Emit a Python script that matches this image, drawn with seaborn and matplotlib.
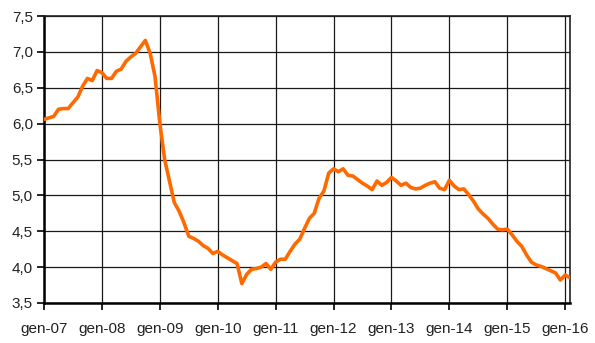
import numpy as np
import pandas as pd
import matplotlib
matplotlib.use("Agg")
import matplotlib.pyplot as plt
import seaborn as sns

# Monthly rate, January 2007 to February 2016
rate = [
    6.06, 6.08, 6.10, 6.20, 6.21, 6.21, 6.29, 6.37, 6.52, 6.63, 6.60, 6.74,
    6.71, 6.63, 6.63, 6.73, 6.76, 6.87, 6.93, 6.98, 7.07, 7.16, 6.98, 6.66,
    6.01, 5.50, 5.20, 4.90, 4.78, 4.62, 4.43, 4.40, 4.36, 4.30, 4.26, 4.19,
    4.22, 4.17, 4.13, 4.09, 4.05, 3.77, 3.90, 3.97, 3.98, 4.00, 4.05, 3.97,
    4.07, 4.11, 4.11, 4.22, 4.32, 4.39, 4.54, 4.68, 4.75, 4.96, 5.06, 5.31,
    5.37, 5.33, 5.37, 5.28, 5.27, 5.22, 5.17, 5.13, 5.08, 5.20, 5.14, 5.18,
    5.25, 5.20, 5.14, 5.17, 5.11, 5.09, 5.10, 5.14, 5.17, 5.19, 5.10, 5.08,
    5.21, 5.13, 5.08, 5.09, 5.01, 4.92, 4.81, 4.74, 4.68, 4.60, 4.53, 4.52,
    4.53, 4.45, 4.36, 4.29, 4.17, 4.07, 4.03, 4.01, 3.98, 3.95, 3.92, 3.82,
    3.89, 3.85,
]
month_index = list(range(len(rate)))
year_labels = ["gen-07", "gen-08", "gen-09", "gen-10", "gen-11",
               "gen-12", "gen-13", "gen-14", "gen-15", "gen-16"]
y_ticks = [3.5, 4.0, 4.5, 5.0, 5.5, 6.0, 6.5, 7.0, 7.5]

df = pd.DataFrame({"mese": month_index, "tasso": rate})

sns.set_theme(style="white")
plt.rcParams["font.family"] = ["Liberation Sans", "DejaVu Sans"]

fig = plt.figure(figsize=(5.95, 3.43), dpi=100)
ax = fig.add_axes([44 / 595, 40 / 343, 526 / 595, 287 / 343])

sns.lineplot(data=df, x="mese", y="tasso", ax=ax, color="#FF6A00",
             linewidth=2.6, zorder=3)

ax.set_xlim(0, len(rate) - 1)
ax.set_ylim(3.5, 7.5)
xt = [12 * i for i in range(len(year_labels))]
ax.set_xticks(xt)
ax.set_xticklabels(year_labels)
ax.set_yticks(y_ticks)
ax.set_yticklabels([f"{v:.1f}".replace(".", ",") for v in y_ticks])

ax.grid(True, color="#1a1a1a", linewidth=0.9, zorder=1)
ax.set_axisbelow(True)
ax.set_xlabel("")
ax.set_ylabel("")

for side in ["left", "bottom"]:
    ax.spines[side].set_color("black")
    ax.spines[side].set_linewidth(1.8)
for side in ["top", "right"]:
    ax.spines[side].set_color("#222222")
    ax.spines[side].set_linewidth(1.2)

ax.tick_params(axis="both", which="major", direction="out", length=5,
               width=1.2, color="black", labelsize=11, labelcolor="#222222",
               bottom=True, left=True)
ax.tick_params(axis="x", pad=9)
ax.tick_params(axis="y", pad=3)

fig.savefig("out.png", dpi=100, facecolor="white")
